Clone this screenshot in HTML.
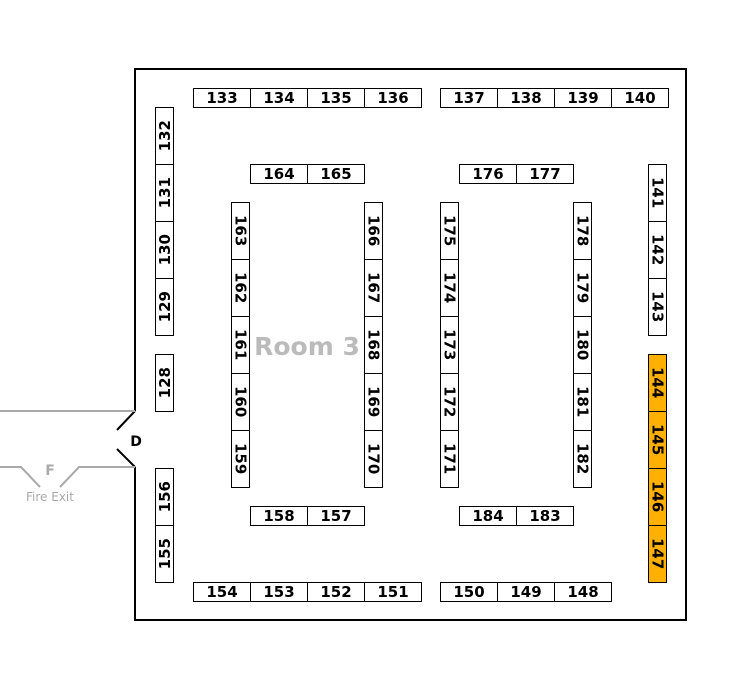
<!DOCTYPE html>
<html><head><meta charset="utf-8"><style>
body{margin:0;width:755px;height:689px;background:#fff;position:relative;overflow:hidden;font-family:"DejaVu Sans","Liberation Sans",sans-serif}
.c{position:absolute;box-sizing:border-box;border:1px solid #000;background:#fff;display:flex;align-items:center;justify-content:center;font-weight:bold;font-size:15px;color:#000}
.h{width:58px;height:20px}
.v{width:19px;height:58px}
.v span{writing-mode:vertical-rl}
.u span{writing-mode:vertical-rl;transform:rotate(180deg)}
.o{background:#ffb000}
</style></head><body>
<svg width="755" height="689" style="position:absolute;left:0;top:0">
<path d="M135,411 L135,69 L686,69 L686,620 L135,620 L135,467" fill="none" stroke="#000" stroke-width="2"/>
<path d="M135,411 L117,430 M135,467 L117,449" stroke="#000" stroke-width="2" fill="none"/>
<path d="M0,411 L135,411 M0,467 L21,467 L40,487 M60,487 L79,467 L135,467" stroke="#aaa" stroke-width="2" fill="none"/>
<text x="136" y="446" font-family="DejaVu Sans" font-weight="bold" font-size="14" text-anchor="middle">D</text>
<text x="50" y="475" font-family="DejaVu Sans" font-weight="bold" font-size="14" fill="#aaa" text-anchor="middle">F</text>
<text x="50" y="501" font-family="DejaVu Sans" font-size="12" fill="#aaa" text-anchor="middle">Fire Exit</text>
<text x="307" y="355" font-family="DejaVu Sans" font-weight="bold" font-size="25" fill="#bbb" text-anchor="middle">Room 3</text>
</svg>
<div class="c h" style="left:193px;top:88px">133</div>
<div class="c h" style="left:250px;top:88px">134</div>
<div class="c h" style="left:307px;top:88px">135</div>
<div class="c h" style="left:364px;top:88px">136</div>
<div class="c h" style="left:440px;top:88px">137</div>
<div class="c h" style="left:497px;top:88px">138</div>
<div class="c h" style="left:554px;top:88px">139</div>
<div class="c h" style="left:611px;top:88px">140</div>
<div class="c h" style="left:250px;top:164px">164</div>
<div class="c h" style="left:307px;top:164px">165</div>
<div class="c h" style="left:459px;top:164px">176</div>
<div class="c h" style="left:516px;top:164px">177</div>
<div class="c h" style="left:250px;top:506px">158</div>
<div class="c h" style="left:307px;top:506px">157</div>
<div class="c h" style="left:459px;top:506px">184</div>
<div class="c h" style="left:516px;top:506px">183</div>
<div class="c h" style="left:193px;top:582px">154</div>
<div class="c h" style="left:250px;top:582px">153</div>
<div class="c h" style="left:307px;top:582px">152</div>
<div class="c h" style="left:364px;top:582px">151</div>
<div class="c h" style="left:440px;top:582px">150</div>
<div class="c h" style="left:497px;top:582px">149</div>
<div class="c h" style="left:554px;top:582px">148</div>
<div class="c v u" style="left:155px;top:107px"><span>132</span></div>
<div class="c v u" style="left:155px;top:164px"><span>131</span></div>
<div class="c v u" style="left:155px;top:221px"><span>130</span></div>
<div class="c v u" style="left:155px;top:278px"><span>129</span></div>
<div class="c v u" style="left:155px;top:354px"><span>128</span></div>
<div class="c v u" style="left:155px;top:468px"><span>156</span></div>
<div class="c v u" style="left:155px;top:525px"><span>155</span></div>
<div class="c v" style="left:231px;top:202px"><span>163</span></div>
<div class="c v" style="left:231px;top:259px"><span>162</span></div>
<div class="c v" style="left:231px;top:316px"><span>161</span></div>
<div class="c v" style="left:231px;top:373px"><span>160</span></div>
<div class="c v" style="left:231px;top:430px"><span>159</span></div>
<div class="c v" style="left:364px;top:202px"><span>166</span></div>
<div class="c v" style="left:364px;top:259px"><span>167</span></div>
<div class="c v" style="left:364px;top:316px"><span>168</span></div>
<div class="c v" style="left:364px;top:373px"><span>169</span></div>
<div class="c v" style="left:364px;top:430px"><span>170</span></div>
<div class="c v" style="left:440px;top:202px"><span>175</span></div>
<div class="c v" style="left:440px;top:259px"><span>174</span></div>
<div class="c v" style="left:440px;top:316px"><span>173</span></div>
<div class="c v" style="left:440px;top:373px"><span>172</span></div>
<div class="c v" style="left:440px;top:430px"><span>171</span></div>
<div class="c v" style="left:573px;top:202px"><span>178</span></div>
<div class="c v" style="left:573px;top:259px"><span>179</span></div>
<div class="c v" style="left:573px;top:316px"><span>180</span></div>
<div class="c v" style="left:573px;top:373px"><span>181</span></div>
<div class="c v" style="left:573px;top:430px"><span>182</span></div>
<div class="c v" style="left:648px;top:164px"><span>141</span></div>
<div class="c v" style="left:648px;top:221px"><span>142</span></div>
<div class="c v" style="left:648px;top:278px"><span>143</span></div>
<div class="c v o" style="left:648px;top:354px"><span>144</span></div>
<div class="c v o" style="left:648px;top:411px"><span>145</span></div>
<div class="c v o" style="left:648px;top:468px"><span>146</span></div>
<div class="c v o" style="left:648px;top:525px"><span>147</span></div>
</body></html>
